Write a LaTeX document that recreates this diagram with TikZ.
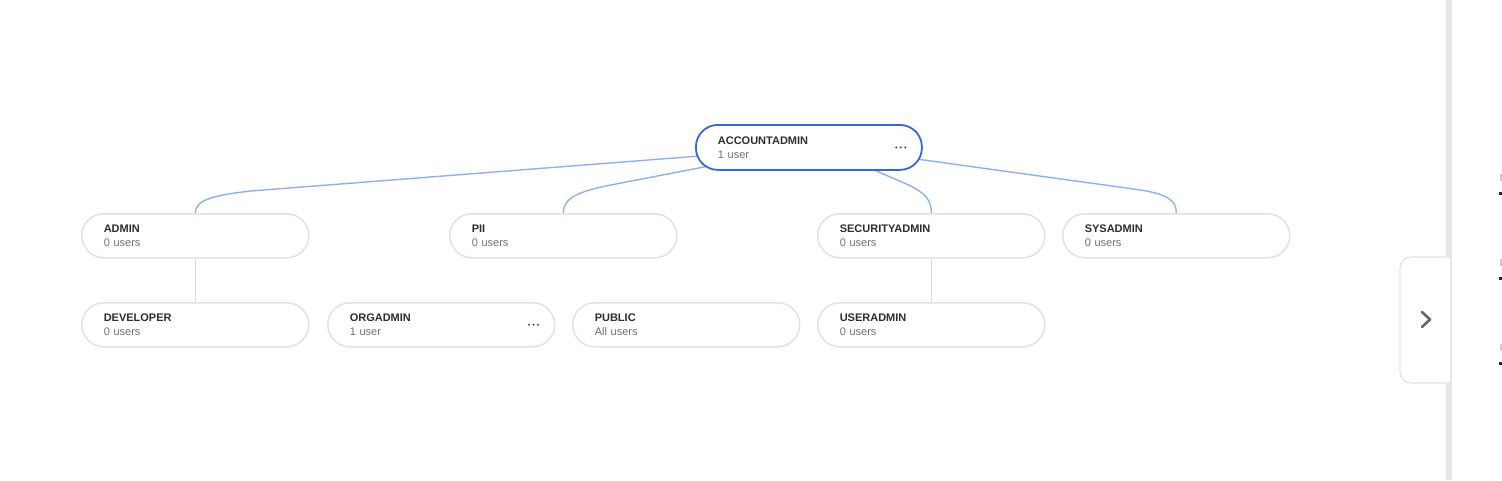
\documentclass[tikz,border=0pt]{standalone}
\usepackage{fontspec}
\setmainfont{Liberation Sans}
\usetikzlibrary{calc,backgrounds}
\definecolor{accblue}{HTML}{3567DB}
\definecolor{linkblue}{HTML}{8DB0F5}
\definecolor{boxgray}{HTML}{E2E2E2}
\definecolor{titlec}{HTML}{2E2E2E}
\definecolor{subc}{HTML}{707070}
\definecolor{treegray}{HTML}{DADADA}
\definecolor{bargray}{HTML}{E6E6E6}
\definecolor{dotc}{HTML}{555555}
\definecolor{chevc}{HTML}{666666}
\begin{document}
\begin{tikzpicture}[x=1pt,y=-1pt,
  role/.style={draw=boxgray, line width=1.5pt, fill=white, rounded corners=22pt,
    minimum width=227pt, minimum height=44pt, text width=183pt, inner xsep=22pt,
    inner ysep=0pt, align=left, anchor=north west, text=titlec,
    font=\fontsize{11}{14}\selectfont},
  rootrole/.style={role, draw=accblue, line width=1.8pt, minimum height=45pt, minimum width=226pt, text width=182pt},
  link/.style={draw=linkblue, line width=1.4pt},
  tree/.style={draw=treegray, line width=1.4pt},
  menudot/.style={fill=dotc}
]
\useasboundingbox (0,0) rectangle (1502,480);

% nodes
\node[rootrole] (acc) at (695,124) {\textbf{ACCOUNTADMIN}\\\textcolor{subc}{1 user}};
\node[role] (admin) at (81,213) {\textbf{ADMIN}\\\textcolor{subc}{0 users}};
\node[role] (pii) at (449,213) {\textbf{PII}\\\textcolor{subc}{0 users}};
\node[role] (secadmin) at (817,213) {\textbf{SECURITYADMIN}\\\textcolor{subc}{0 users}};
\node[role] (sysadmin) at (1062,213) {\textbf{SYSADMIN}\\\textcolor{subc}{0 users}};
\node[role] (developer) at (81,302) {\textbf{DEVELOPER}\\\textcolor{subc}{0 users}};
\node[role] (orgadmin) at (327,302) {\textbf{ORGADMIN}\\\textcolor{subc}{1 user}};
\node[role] (public) at (572,302) {\textbf{PUBLIC}\\\textcolor{subc}{All users}};
\node[role] (useradmin) at (817,302) {\textbf{USERADMIN}\\\textcolor{subc}{0 users}};

% menu dots
\foreach \i in {-1,0,1} {
  \fill[menudot] ($(acc.east)+(-22+4.5*\i,0)$) circle (1.2);
  \fill[menudot] ($(orgadmin.east)+(-22+4.5*\i,0)$) circle (1.2);
}

% connectors
\begin{scope}[on background layer]
\draw[link] ([shift={(-108,8.5)}]acc.center) -- ($(admin.north)+(55.5,-22)$)
  .. controls ($(admin.north)+(10.5,-17)$) and ($(admin.north)+(0.5,-11)$) .. (admin.north);
\draw[link] ([shift={(-102,19)}]acc.center) -- ($(pii.north)+(42.5,-27)$)
  .. controls ($(pii.north)+(9.5,-20)$) and ($(pii.north)+(0.5,-13)$) .. (pii.north);
\draw[link] ([shift={(58,19.5)}]acc.center) -- ($(secadmin.north)+(-22.5,-28)$)
  .. controls ($(secadmin.north)+(-6.5,-20)$) and ($(secadmin.north)+(0.5,-13)$) .. (secadmin.north);
\draw[link] ([shift={(107,11.5)}]acc.center) -- ($(sysadmin.north)+(-35.5,-23)$)
  .. controls ($(sysadmin.north)+(-10.5,-19)$) and ($(sysadmin.north)+(0.5,-13)$) .. (sysadmin.north);
\draw[tree] (admin.south) -- (developer.north);
\draw[tree] (secadmin.south) -- (useradmin.north);
\end{scope}

% right side panel
\fill[bargray] (1446,0) rectangle (1452,480);
\draw[draw=boxgray, line width=1.2pt, fill=white]
  (1450,257) -- (1411,257) arc[start angle=270, end angle=180, radius=11]
  -- (1400,372) arc[start angle=180, end angle=90, radius=11] -- (1450,383);
\draw[chevc, line width=2.6pt, line cap=round, line join=round]
  (1422,312) -- (1430,319.5) -- (1422,327);
% cut-off fragments at the right edge
\fill[black!85] (1499,192) rectangle (1502,194.5);
\fill[black!85] (1499,277) rectangle (1502,279.5);
\fill[black!85] (1499,362) rectangle (1502,364.5);
\fill[gray!40] (1500,174) rectangle (1502,181);
\fill[gray!40] (1500,259) rectangle (1502,266);
\fill[gray!40] (1500,344) rectangle (1502,351);
\end{tikzpicture}
\end{document}
